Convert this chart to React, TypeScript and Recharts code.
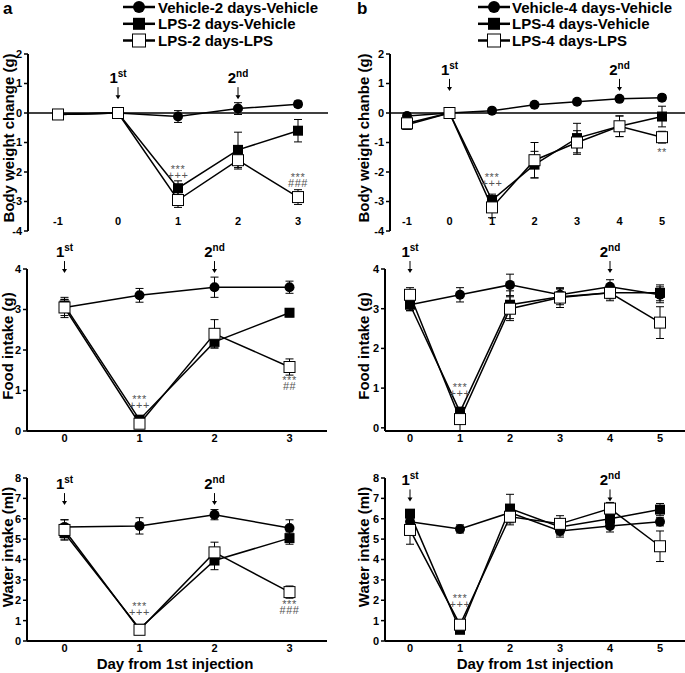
import React from 'react';
import { LineChart, Line, XAxis, YAxis, ErrorBar, ReferenceLine, ReferenceDot } from 'recharts';

const FONT = 'Arial, "Liberation Sans", Helvetica, sans-serif';

// ---- body weight change (g) ----
const bwDaysA = [-1, 0, 1, 2, 3];
const bwVehA = [-0.05, 0, -0.12, 0.15, 0.3];
const bwVehErrA = [0.05, 0, 0.2, 0.2, 0.1];
const bwLpsVehA = [-0.05, 0, -2.55, -1.25, -0.6];
const bwLpsVehErrA = [0.05, 0, 0.25, 0.6, 0.38];
const bwLpsLpsA = [-0.05, 0, -2.95, -1.6, -2.85];
const bwLpsLpsErrA = [0.05, 0, 0.25, 0.3, 0.25];

const bwDaysB = [-1, 0, 1, 2, 3, 4, 5];
const bwVehB = [-0.1, 0, 0.08, 0.28, 0.38, 0.48, 0.52];
const bwVehErrB = [0.1, 0, 0.05, 0.05, 0.05, 0.05, 0.1];
const bwLpsVehB = [-0.4, 0, -2.95, -1.75, -0.85, -0.45, -0.12];
const bwLpsVehErrB = [0.15, 0, 0.2, 0.45, 0.5, 0.35, 0.35];
const bwLpsLpsB = [-0.35, 0, -3.2, -1.6, -1.0, -0.45, -0.82];
const bwLpsLpsErrB = [0.15, 0, 0.35, 0.6, 0.4, 0.35, 0.2];

// ---- food intake (g) ----
const fdDaysA = [0, 1, 2, 3];
const fdVehA = [3.05, 3.35, 3.55, 3.55];
const fdVehErrA = [0.2, 0.17, 0.25, 0.15];
const fdLpsVehA = [3.1, 0.28, 2.2, 2.92];
const fdLpsVehErrA = [0.15, 0.05, 0.15, 0.1];
const fdLpsLpsA = [3.05, 0.18, 2.4, 1.58];
const fdLpsLpsErrA = [0.25, 0.05, 0.35, 0.2];

const fdDaysB = [0, 1, 2, 3, 4, 5];
const fdVehB = [3.1, 3.35, 3.6, 3.35, 3.55, 3.35];
const fdVehErrB = [0.15, 0.18, 0.27, 0.15, 0.18, 0.2];
const fdLpsVehB = [3.1, 0.4, 3.1, 3.3, 3.4, 3.4];
const fdLpsVehErrB = [0.15, 0.1, 0.35, 0.2, 0.15, 0.2];
const fdLpsLpsB = [3.35, 0.22, 3.0, 3.28, 3.4, 2.65];
const fdLpsLpsErrB = [0.18, 0.3, 0.3, 0.25, 0.2, 0.4];

// ---- water intake (ml) ----
const wtDaysA = [0, 1, 2, 3];
const wtVehA = [5.6, 5.65, 6.2, 5.55];
const wtVehErrA = [0.35, 0.4, 0.25, 0.4];
const wtLpsVehA = [5.3, 0.6, 3.95, 5.05];
const wtLpsVehErrA = [0.3, 0.1, 0.45, 0.3];
const wtLpsLpsA = [5.45, 0.55, 4.35, 2.4];
const wtLpsLpsErrA = [0.5, 0.1, 0.5, 0.3];

const wtDaysB = [0, 1, 2, 3, 4, 5];
const wtVehB = [5.85, 5.5, 6.3, 5.4, 5.65, 5.85];
const wtVehErrB = [0.2, 0.2, 0.3, 0.3, 0.3, 0.2];
const wtLpsVehB = [6.25, 0.55, 6.5, 5.6, 6.0, 6.45];
const wtLpsVehErrB = [0.2, 0.1, 0.7, 0.4, 0.3, 0.3];
const wtLpsLpsB = [5.45, 0.8, 6.1, 5.75, 6.5, 4.65];
const wtLpsLpsErrB = [0.7, 0.2, 0.4, 0.4, 0.3, 0.75];

const legendA = ['Vehicle-2 days-Vehicle', 'LPS-2 days-Vehicle', 'LPS-2 days-LPS'];
const legendB = ['Vehicle-4 days-Vehicle', 'LPS-4 days-Vehicle', 'LPS-4 days-LPS'];

const makeRows = (days: number[], s: number[][]) =>
  days.map((day, i) => ({
    day,
    veh: s[0][i], vehErr: s[1][i],
    lpsv: s[2][i], lpsvErr: s[3][i],
    lpsl: s[4][i], lpslErr: s[5][i],
  }));

const circleDot = (p: any) =>
  p.cx == null ? <g key={p.index} /> : <circle key={p.index} cx={p.cx} cy={p.cy} r={5} fill="#000" />;
const filledDot = (p: any) =>
  p.cx == null ? <g key={p.index} /> : <rect key={p.index} x={p.cx - 5} y={p.cy - 5} width={10} height={10} fill="#000" />;
const openDot = (p: any) =>
  p.cx == null ? <g key={p.index} /> : (
    <rect key={p.index} x={p.cx - 5.5} y={p.cy - 5.5} width={11} height={11} fill="#fff" stroke="#000" strokeWidth={1} />
  );

const arrowShape = (num: string, sup: string) => (p: any) => {
  const { cx, cy } = p;
  return (
    <g>
      <text x={cx} y={cy - 16} textAnchor="middle" fontFamily={FONT} fontWeight={700} fontSize={15} fill="#000">
        {num}
        <tspan fontSize={10} dy={-6}>{sup}</tspan>
      </text>
      <line x1={cx} x2={cx} y1={cy - 12} y2={cy - 3} stroke="#000" strokeWidth={1} />
      <path d={`M${cx - 2.5},${cy - 4} L${cx + 2.5},${cy - 4} L${cx},${cy} Z`} fill="#000" />
    </g>
  );
};

const noteShape = (lines: string[]) => (p: any) => (
  <g>
    {lines.map((t, i) => (
      <text key={i} x={p.cx} y={p.cy + i * 6} textAnchor="middle" fontFamily={FONT} fontSize={11}
        letterSpacing={0.5} fill="#555">{t}</text>
    ))}
  </g>
);

const innerTick = (p: any) => (
  <text key={p.index} x={p.x} y={p.y - 6} textAnchor="middle" fontFamily={FONT} fontWeight={700} fontSize={11} fill="#000">
    {p.payload.value}
  </text>
);

type Note = { day: number; value: number; lines: string[] };
type Arrow = { day: number; value: number; num: string; sup: string };

function Panel(props: {
  rows: any[]; left: number; top: number; width: number; height: number;
  margin: any; yWidth: number; xDomain: number[]; xTicks: number[];
  yDomain: number[]; yTicks: number[]; body?: boolean; arrows: Arrow[]; notes: Note[];
}) {
  const { rows, body } = props;
  return (
    <div style={{ position: 'absolute', left: props.left, top: props.top }}>
      <LineChart width={props.width} height={props.height} data={rows} margin={props.margin}>
        {body ? (
          <XAxis type="number" dataKey="day" domain={props.xDomain} ticks={props.xTicks} interval={0}
            height={14} axisLine={false} tickLine={false} tickSize={0} tickMargin={0} tick={innerTick} />
        ) : (
          <XAxis type="number" dataKey="day" domain={props.xDomain} ticks={props.xTicks} interval={0}
            height={20} axisLine={{ stroke: '#000', strokeWidth: 2 }} tickLine={false} tickSize={0} tickMargin={3}
            tick={{ fill: '#000', fontSize: 11, fontWeight: 700, fontFamily: FONT }} />
        )}
        <YAxis type="number" domain={props.yDomain} ticks={props.yTicks} interval={0} width={props.yWidth}
          axisLine={{ stroke: '#000', strokeWidth: 2 }} tickLine={{ stroke: '#000', strokeWidth: 1.5 }}
          tickSize={4} tickMargin={2}
          tick={{ fill: '#000', fontSize: 11, fontWeight: 700, fontFamily: FONT }} />
        {body && <ReferenceLine y={0} stroke="#000" strokeWidth={1.5} />}
        <Line dataKey="veh" stroke="#000" strokeWidth={1.5} dot={circleDot} activeDot={false} isAnimationActive={false}>
          <ErrorBar dataKey="vehErr" width={4} stroke="#000" strokeWidth={1} direction="y" />
        </Line>
        <Line dataKey="lpsv" stroke="#000" strokeWidth={1.5} dot={filledDot} activeDot={false} isAnimationActive={false}>
          <ErrorBar dataKey="lpsvErr" width={4} stroke="#000" strokeWidth={1} direction="y" />
        </Line>
        <Line dataKey="lpsl" stroke="#000" strokeWidth={1.5} dot={openDot} activeDot={false} isAnimationActive={false}>
          <ErrorBar dataKey="lpslErr" width={4} stroke="#000" strokeWidth={1} direction="y" />
        </Line>
        {props.arrows.map((a, i) => (
          <ReferenceDot key={'a' + i} x={a.day} y={a.value} r={0} ifOverflow="visible" shape={arrowShape(a.num, a.sup)} />
        ))}
        {props.notes.map((n, i) => (
          <ReferenceDot key={'n' + i} x={n.day} y={n.value} r={0} ifOverflow="visible" shape={noteShape(n.lines)} />
        ))}
      </LineChart>
    </div>
  );
}

function LegendBox({ x0, x1, tx, names }: { x0: number; x1: number; tx: number; names: string[] }) {
  const base = [12.5, 29.3, 46];
  const mx = (x0 + x1) / 2;
  return (
    <g>
      {names.map((n, i) => {
        const cy = base[i] - 5.5;
        return (
          <g key={n}>
            <line x1={x0} x2={x1} y1={cy} y2={cy} stroke="#000" strokeWidth={2.5} />
            {i === 0 && <circle cx={mx} cy={cy} r={6} fill="#000" />}
            {i === 1 && <rect x={mx - 6} y={cy - 6} width={12} height={12} fill="#000" />}
            {i === 2 && <rect x={mx - 6.5} y={cy - 6.5} width={13} height={13} fill="#fff" stroke="#000" strokeWidth={1} />}
            <text x={tx} y={base[i]} fontFamily={FONT} fontWeight={700} fontSize={15} fill="#000">{n}</text>
          </g>
        );
      })}
    </g>
  );
}

const yTitle = (x: number, y: number, t: string) => (
  <text x={x} y={y} transform={`rotate(-90 ${x} ${y})`} textAnchor="middle" fontFamily={FONT}
    fontWeight={700} fontSize={15} fill="#000">{t}</text>
);

export default function App() {
  const bwA = makeRows(bwDaysA, [bwVehA, bwVehErrA, bwLpsVehA, bwLpsVehErrA, bwLpsLpsA, bwLpsLpsErrA]);
  const bwB = makeRows(bwDaysB, [bwVehB, bwVehErrB, bwLpsVehB, bwLpsVehErrB, bwLpsLpsB, bwLpsLpsErrB]);
  const fdA = makeRows(fdDaysA, [fdVehA, fdVehErrA, fdLpsVehA, fdLpsVehErrA, fdLpsLpsA, fdLpsLpsErrA]);
  const fdB = makeRows(fdDaysB, [fdVehB, fdVehErrB, fdLpsVehB, fdLpsVehErrB, fdLpsLpsB, fdLpsLpsErrB]);
  const wtA = makeRows(wtDaysA, [wtVehA, wtVehErrA, wtLpsVehA, wtLpsVehErrA, wtLpsLpsA, wtLpsLpsErrA]);
  const wtB = makeRows(wtDaysB, [wtVehB, wtVehErrB, wtLpsVehB, wtLpsVehErrB, wtLpsLpsB, wtLpsLpsErrB]);

  const bwY = [-4, -3, -2, -1, 0, 1, 2];
  const fdY = [0, 1, 2, 3, 4];
  const wtY = [0, 1, 2, 3, 4, 5, 6, 7, 8];

  return (
    <div style={{ position: 'absolute', left: 0, top: 0, width: 685, height: 673, overflow: 'hidden', background: '#fff' }}>
      <Panel rows={bwA} left={0} top={0} width={340} height={254} yWidth={28}
        margin={{ top: 54, right: 12, bottom: 9, left: 0 }}
        xDomain={[-1.5, 3.5]} xTicks={bwDaysA} yDomain={[-4, 2]} yTicks={bwY} body
        arrows={[{ day: 0, value: 0.47, num: '1', sup: 'st' }, { day: 2, value: 0.47, num: '2', sup: 'nd' }]}
        notes={[{ day: 1, value: -2.03, lines: ['***', '+++'] }, { day: 3, value: -2.3, lines: ['***', '###'] }]} />
      <Panel rows={bwB} left={340} top={0} width={348} height={254} yWidth={50}
        margin={{ top: 54, right: 0.5, bottom: 9, left: 0 }}
        xDomain={[-1.4, 5.6]} xTicks={bwDaysB} yDomain={[-4, 2]} yTicks={bwY} body
        arrows={[{ day: 0, value: 0.75, num: '1', sup: 'st' }, { day: 4, value: 0.75, num: '2', sup: 'nd' }]}
        notes={[{ day: 1, value: -2.3, lines: ['***', '+++'] }, { day: 5, value: -1.46, lines: ['**'] }]} />

      <Panel rows={fdA} left={0} top={240} width={340} height={211} yWidth={27}
        margin={{ top: 29, right: 13, bottom: 0, left: 0 }}
        xDomain={[-0.5, 3.5]} xTicks={fdDaysA} yDomain={[0, 4]} yTicks={fdY}
        arrows={[{ day: 0, value: 3.9, num: '1', sup: 'st' }, { day: 2, value: 3.9, num: '2', sup: 'nd' }]}
        notes={[{ day: 1, value: 0.69, lines: ['***', '+++'] }, { day: 3, value: 1.16, lines: ['***', '##'] }]} />
      <Panel rows={fdB} left={340} top={240} width={345} height={211} yWidth={45}
        margin={{ top: 29, right: 0, bottom: 0, left: 0 }}
        xDomain={[-0.5, 5.5]} xTicks={fdDaysB} yDomain={[0, 4]} yTicks={fdY}
        arrows={[{ day: 0, value: 3.9, num: '1', sup: 'st' }, { day: 4, value: 3.9, num: '2', sup: 'nd' }]}
        notes={[{ day: 1, value: 0.94, lines: ['***', '+++'] }]} />

      <Panel rows={wtA} left={0} top={451} width={340} height={222} yWidth={27}
        margin={{ top: 27, right: 13, bottom: 12, left: 0 }}
        xDomain={[-0.5, 3.5]} xTicks={wtDaysA} yDomain={[0, 8]} yTicks={wtY}
        arrows={[{ day: 0, value: 6.67, num: '1', sup: 'st' }, { day: 2, value: 6.67, num: '2', sup: 'nd' }]}
        notes={[{ day: 1, value: 1.52, lines: ['***', '+++'] }, { day: 3, value: 1.62, lines: ['***', '###'] }]} />
      <Panel rows={wtB} left={340} top={451} width={345} height={222} yWidth={45}
        margin={{ top: 27, right: 0, bottom: 12, left: 0 }}
        xDomain={[-0.5, 5.5]} xTicks={wtDaysB} yDomain={[0, 8]} yTicks={wtY}
        arrows={[{ day: 0, value: 6.85, num: '1', sup: 'st' }, { day: 4, value: 6.85, num: '2', sup: 'nd' }]}
        notes={[{ day: 1, value: 1.91, lines: ['***', '+++'] }]} />

      <svg width={685} height={673} style={{ position: 'absolute', left: 0, top: 0, pointerEvents: 'none' }}>
        <text x={3} y={14} fontFamily={FONT} fontWeight={700} fontSize={17} fill="#000">a</text>
        <text x={357} y={14} fontFamily={FONT} fontWeight={700} fontSize={17} fill="#000">b</text>
        <LegendBox x0={123} x1={155} tx={158} names={legendA} />
        <LegendBox x0={478} x1={510} tx={512} names={legendB} />
        {yTitle(14, 138, 'Body weight change (g)')}
        {yTitle(369, 138, 'Body weight chanbe (g)')}
        {yTitle(13, 346, 'Food intake (g)')}
        {yTitle(369, 346, 'Food intake (g)')}
        {yTitle(13, 547, 'Water intake (ml)')}
        {yTitle(369, 547, 'Water intake (ml)')}
        <text x={175} y={669} textAnchor="middle" fontFamily={FONT} fontWeight={700} fontSize={15} fill="#000">Day from 1st injection</text>
        <text x={535} y={669} textAnchor="middle" fontFamily={FONT} fontWeight={700} fontSize={15} fill="#000">Day from 1st injection</text>
      </svg>
    </div>
  );
}
